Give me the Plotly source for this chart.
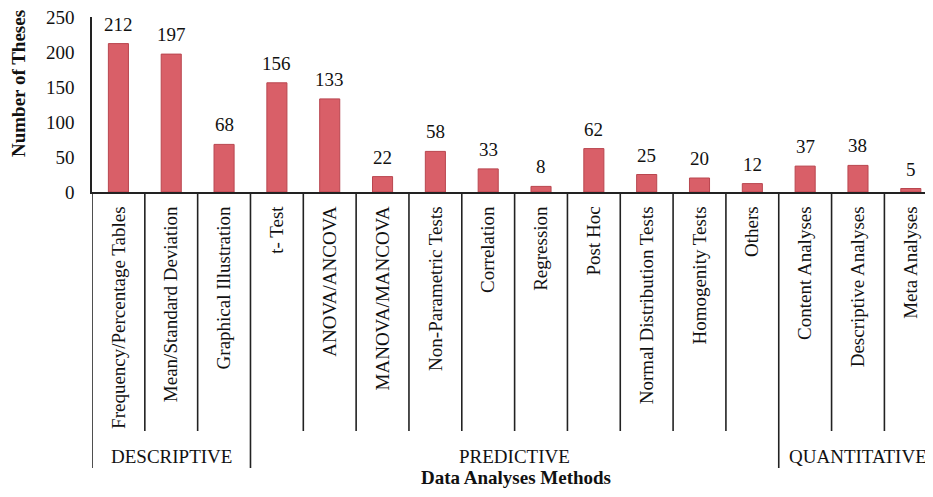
import plotly.graph_objects as go

categories = ["Frequency/Percentage Tables", "Mean/Standard Deviation", "Graphical Illustration",
              "t- Test", "ANOVA/ANCOVA", "MANOVA/MANCOVA", "Non-Parametric Tests", "Correlation",
              "Regression", "Post Hoc", "Normal Distribution Tests", "Homogenity Tests", "Others",
              "Content Analyses", "Descriptive Analyses", "Meta Analyses"]
values = [212, 197, 68, 156, 133, 22, 58, 33, 8, 62, 25, 20, 12, 37, 38, 5]
groups = ["DESCRIPTIVE", "PREDICTIVE", "QUANTITATIVE"]
group_sizes = [3, 10, 3]
y_ticks = [0, 50, 100, 150, 200, 250]

FONT = "Liberation Serif, Times New Roman, serif"
OFF = 8  # page body margin
W, H = 933 - OFF, 497 - OFF
L, R = 92 - OFF, 0
T = 17 - OFF
PLOT_BOTTOM = 192 - OFF
B = H - PLOT_BOTTOM
plot_h = H - T - B
plot_w = W - L - R

x_idx = list(range(len(categories)))

fig = go.Figure()
fig.add_trace(go.Bar(
    x=x_idx, y=values, width=0.38,
    marker=dict(color="#d95f68", line=dict(color="#b9464f", width=1)),
    cliponaxis=False, hoverinfo="x+y",
))

def py(p):
    # target pixel y -> paper y
    return (PLOT_BOTTOM - (p - OFF)) / plot_h

def px(p):
    return ((p - OFF) - L) / plot_w

shapes = []
bounds = [0]
for s in group_sizes:
    bounds.append(bounds[-1] + s)
for i in range(len(categories)):
    long = i in bounds
    shapes.append(dict(type="line", xref="x", yref="paper", x0=i - 0.5, x1=i - 0.5,
                       y0=0, y1=py(468 if long else 431),
                       line=dict(color="#222", width=1.6)))

annotations = []
for i, v in zip(x_idx, values):
    annotations.append(dict(x=i, y=v, xref="x", yref="y", text=str(v), showarrow=False,
                            yanchor="bottom", yshift=7,
                            font=dict(family=FONT, size=19, color="#111")))
start = 0
for g, s in zip(groups, group_sizes):
    annotations.append(dict(x=start + (s - 1) / 2, y=py(456), xref="x", yref="paper",
                            text=g, showarrow=False, yanchor="middle",
                            font=dict(family=FONT, size=19, color="#111")))
    start += s
annotations.append(dict(x=px(516), y=py(477), xref="paper", yref="paper",
                        text="<b>Data Analyses Methods</b>", showarrow=False,
                        xanchor="center", yanchor="middle",
                        font=dict(family=FONT, size=19, color="#111")))
annotations.append(dict(x=px(18), y=py(84), xref="paper", yref="paper",
                        text="<b>Number of Theses</b>", textangle=-90, showarrow=False,
                        xanchor="center", yanchor="middle",
                        font=dict(family=FONT, size=19, color="#111")))

fig.update_layout(
    width=W, height=H,
    margin=dict(l=L, r=R, t=T, b=B, autoexpand=False),
    paper_bgcolor="white", plot_bgcolor="white",
    showlegend=False,
    shapes=shapes, annotations=annotations,
    xaxis=dict(range=[-0.5, 15.42], tickmode="array", tickvals=x_idx, ticktext=categories,
               tickangle=-90, ticks="", showline=True, linecolor="#222", linewidth=1.6,
               showgrid=False, zeroline=False, ticklabelstandoff=5,
               tickfont=dict(family=FONT, size=19, color="#111"), automargin=False),
    yaxis=dict(range=[0, 250], tickvals=y_ticks, ticks="", showline=True, linecolor="#222",
               linewidth=1.6, showgrid=False, zeroline=False, ticklabelstandoff=12,
               ticklabeloverflow="allow",
               tickfont=dict(family=FONT, size=19, color="#111"), automargin=False),
)

fig.write_html("out.html")
